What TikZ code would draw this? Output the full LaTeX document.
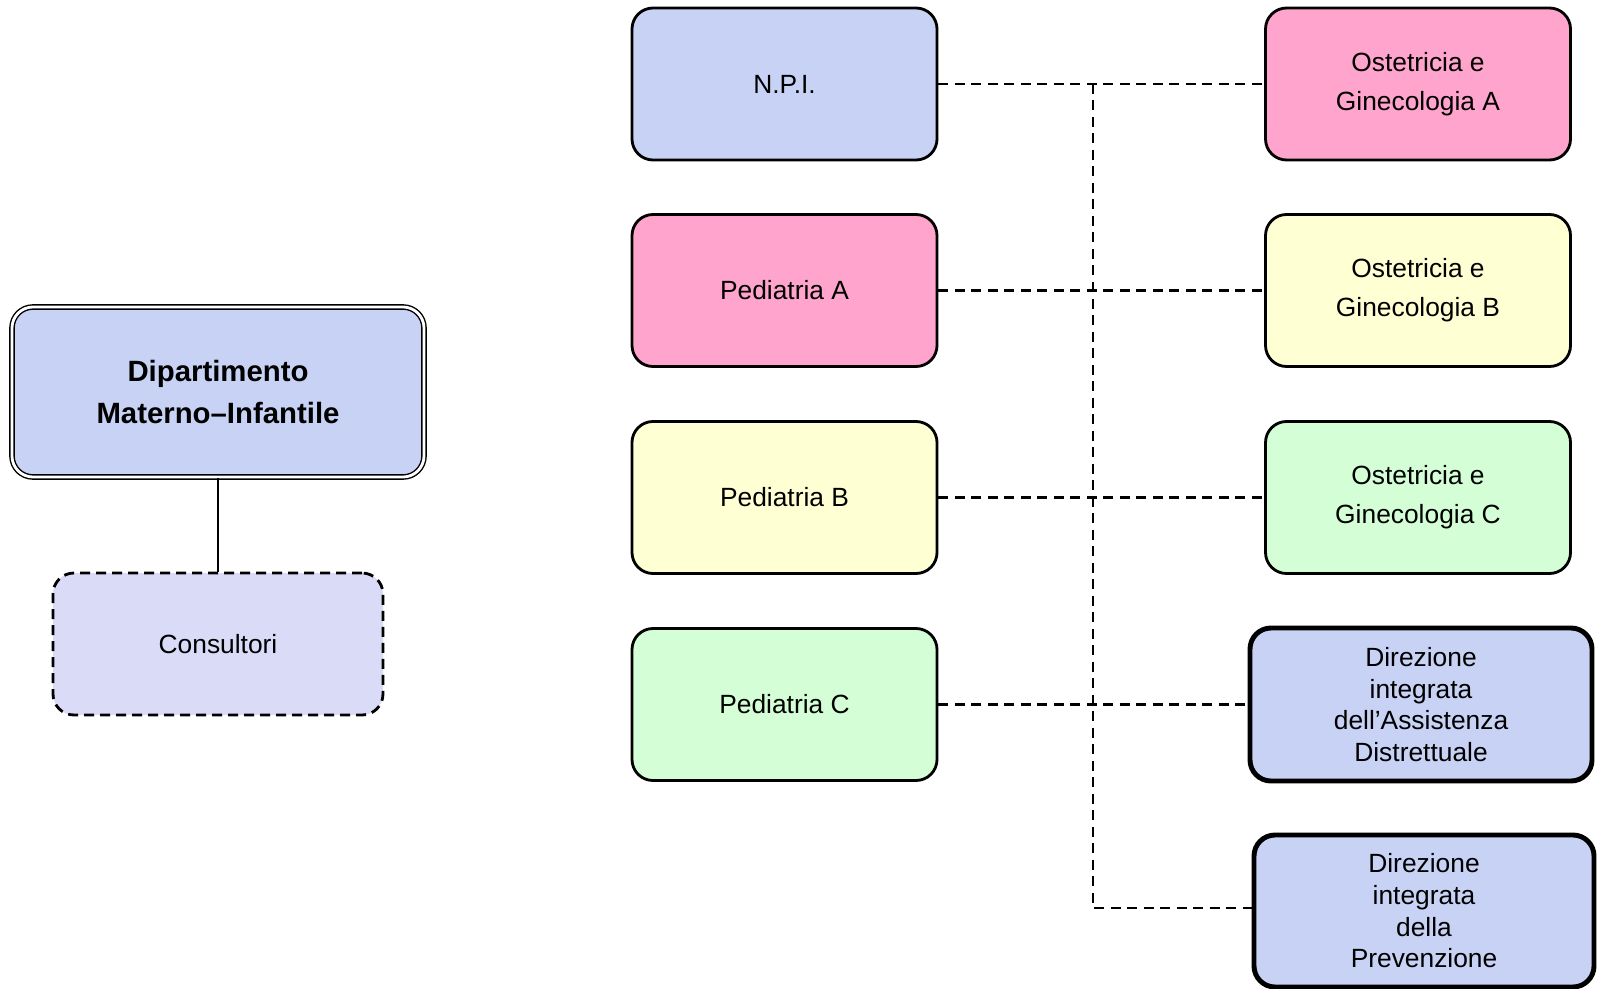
\documentclass[tikz,border=0pt]{standalone}
\usepackage{fontspec}
\setmainfont{Liberation Sans}
\usepackage{tikz}
\usetikzlibrary{positioning,calc}
\definecolor{texblue}{RGB}{200,210,244}
\definecolor{paleblue}{RGB}{218,220,247}
\definecolor{pinkbox}{RGB}{255,164,204}
\definecolor{yellowbox}{RGB}{255,255,212}
\definecolor{greenbox}{RGB}{212,255,214}
\tikzset{every picture/.style={line width=0.75pt}}
\tikzset{
  unit/.style={draw, rounded corners=0.42cm, line width=1.6pt, align=center,
    minimum width=6.1cm, minimum height=3.04cm, font=\fontsize{15}{22}\selectfont},
  dir/.style={unit, line width=2.8pt, minimum width=6.8cm, font=\fontsize{15}{18}\selectfont},
  link/.style={line width=1.4pt, dash pattern=on 0.2cm off 0.13cm}
}
\begin{document}
\begin{tikzpicture}
\useasboundingbox (0,0) rectangle (32.08,19.76);
% central department
\node (dept) [unit, fill=texblue, line width=0.8pt, double, double distance=1.6pt,
  minimum width=8.24cm, minimum height=3.4cm, font=\fontsize{16.7}{24.4}\selectfont\bfseries]
  at (4.36,11.92) {Dipartimento\\Materno--Infantile};
\node (cons) [unit, fill=paleblue, dash pattern=on 0.2cm off 0.12cm,
  minimum width=6.6cm, minimum height=2.84cm] at (4.36,6.88) {Consultori};
% middle column
\node (npi) [unit, fill=texblue] at (15.69,18.08) {N.P.I.};
\node (pedA) [unit, fill=pinkbox] at (15.69,13.95) {Pediatria A};
\node (pedB) [unit, fill=yellowbox] at (15.69,9.81) {Pediatria B};
\node (pedC) [unit, fill=greenbox] at (15.69,5.67) {Pediatria C};
% right column
\node (ostA) [unit, fill=pinkbox] at (28.36,18.08) {Ostetricia e\\Ginecologia A};
\node (ostB) [unit, fill=yellowbox] at (28.36,13.95) {Ostetricia e\\Ginecologia B};
\node (ostC) [unit, fill=greenbox] at (28.36,9.81) {Ostetricia e\\Ginecologia C};
\node (dirA) [dir, fill=texblue, minimum width=6.84cm, minimum height=3.06cm] at (28.42,5.67)
  {Direzione\\integrata\\dell'Assistenza\\Distrettuale};
\node (dirP) [dir, fill=texblue] at (28.48,1.54)
  {Direzione\\integrata\\della\\Prevenzione};
% connectors
\coordinate (trunk) at (21.86,1.6);
\draw [line width=1.4pt] (dept.south) -- (cons.north);
\draw [link] (npi.east) -- (ostA.west);
\draw [link] (pedA.east) -- (ostB.west);
\draw [link] (pedB.east) -- (ostC.west);
\draw [link] (pedC.east) -- (dirA.west);
\draw [link] ($(dept.east)+(0,-0.12)$) -- ($(dept.east)+(0,-0.12)$ -| trunk);
\draw [link] (npi.east -| trunk) -- (trunk) -- (trunk -| dirP.west);
\end{tikzpicture}
\end{document}
